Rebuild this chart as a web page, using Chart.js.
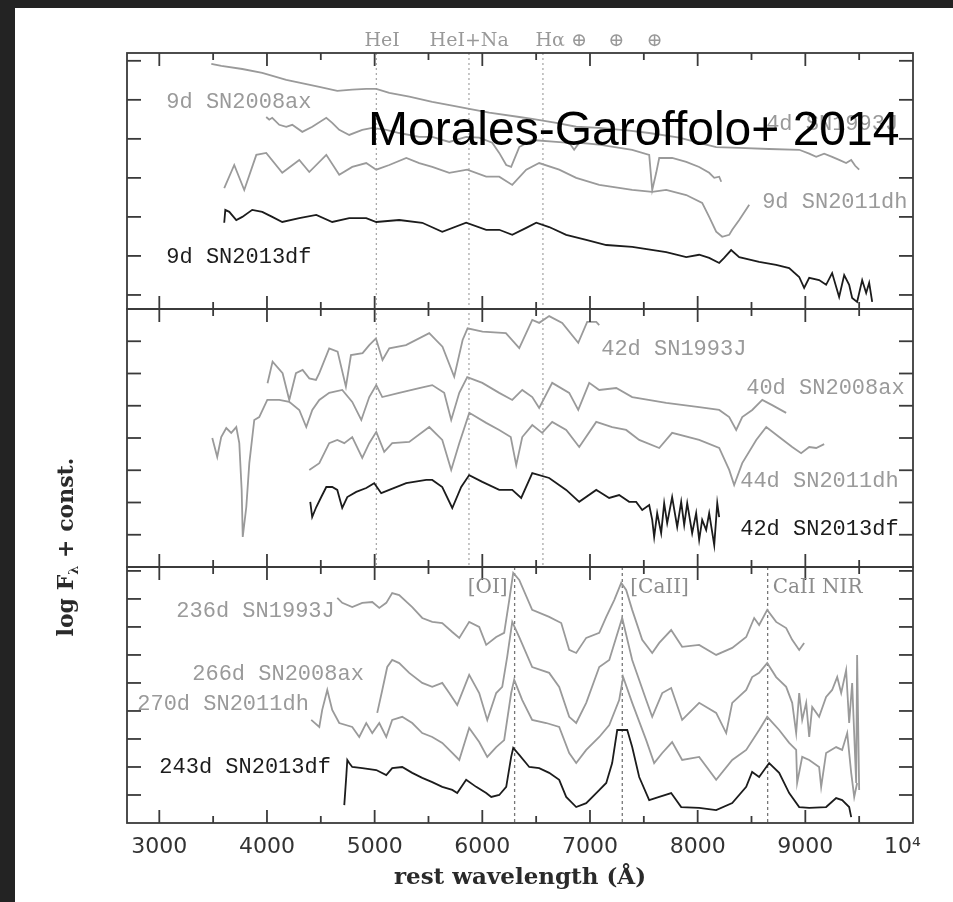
<!DOCTYPE html>
<html>
<head>
<meta charset="utf-8">
<script src="https://cdn.jsdelivr.net/npm/chart.js@4.4.1/dist/chart.umd.min.js"></script>
<style>
  html, body { margin: 0; padding: 0; background: #232323; }
  #wrap { position: absolute; left: 15px; top: 8px; width: 938px; height: 894px; background: #fff; }
</style>
</head>
<body>
<div id="wrap"><canvas id="spec" width="938" height="894"></canvas></div>
<script>
// ---- early phase (9d / 4d), top panel ----
const wl_1993J_4d = [3483,3576,3771,3956,4179,4300,4486,4653,4792,4922,5015,5136,5322,5535,5721,5879,6064,6343,6464,6687,6872,7086,7364,7550,7829,8014,8172,8386,8664,8943,9036,9101,9175,9249,9314,9379,9426,9463,9500];
const fx_1993J_4d = [5.92,5.87,5.79,5.69,5.51,5.44,5.33,5.23,5.26,5.28,5.28,5.18,5.08,4.95,4.85,4.77,4.67,4.56,4.51,4.41,4.31,4.28,4.21,4.15,4.03,3.90,3.79,3.77,3.74,3.72,3.62,3.54,3.62,3.54,3.46,3.38,3.46,3.31,3.21];

const wl_2008ax_9d = [3993,4021,4049,4114,4179,4235,4328,4421,4551,4606,4671,4764,4885,4978,5108,5228,5414,5535,5693,5850,5971,6092,6157,6222,6268,6343,6464,6686,6807,6853,6900,7086,7392,7550,7578,7615,7643,7763,7894,8014,8107,8154,8200,8219];
const fx_2008ax_9d = [4.56,4.49,4.54,4.36,4.31,4.36,4.18,4.31,4.54,4.41,4.23,4.10,4.23,4.28,4.23,4.15,4.05,4.05,3.92,4.05,4.03,3.90,3.64,3.33,3.28,3.79,3.97,3.92,3.90,3.72,3.90,3.85,3.72,3.59,2.69,3.13,3.51,3.51,3.41,3.28,3.13,3.00,3.03,2.90];

const wl_2011dh_9d = [3603,3696,3789,3901,3993,4142,4300,4393,4551,4671,4792,4922,5015,5136,5294,5414,5535,5693,5860,6036,6157,6278,6408,6528,6714,6872,7086,7392,7578,7708,7894,8042,8107,8172,8228,8293,8321,8386,8479];
const fx_2011dh_9d = [2.74,3.33,2.69,3.59,3.64,3.13,3.46,3.15,3.59,3.08,3.28,3.38,3.21,3.33,3.51,3.38,3.28,3.13,3.21,3.03,3.03,2.82,3.21,3.38,3.21,3.00,2.82,2.69,2.64,2.69,2.56,2.36,2.00,1.62,1.49,1.54,1.67,1.92,2.31];

const wl_2013df_9d = [3603,3613,3650,3715,3771,3863,3956,4049,4142,4300,4458,4606,4764,4922,5015,5228,5442,5628,5850,6036,6157,6278,6408,6501,6621,6779,6965,7151,7392,7708,7894,8014,8107,8200,8246,8311,8386,8571,8729,8850,8943,8989,9036,9128,9193,9249,9314,9361,9407,9435,9481,9528,9565,9593,9621];
const fx_2013df_9d = [1.85,2.18,2.13,1.92,2.00,2.18,2.13,2.00,1.87,1.97,2.05,1.87,1.97,1.97,1.87,1.92,1.85,1.62,1.85,1.67,1.67,1.54,1.72,1.85,1.74,1.54,1.41,1.28,1.23,1.10,0.97,1.03,0.95,0.82,0.95,1.15,0.97,0.85,0.77,0.69,0.46,0.18,0.44,0.38,0.26,0.56,-0.05,0.51,0.26,-0.08,-0.18,0.38,0.05,0.31,-0.18];

// ---- ~40d, middle panel ----
const wl_1993J_42d = [4005,4052,4145,4207,4269,4331,4393,4455,4486,4578,4656,4733,4780,4888,4950,5012,5073,5136,5291,5507,5630,5739,5817,5863,6002,6219,6343,6464,6528,6621,6742,6891,6974,7058,7086];
const fx_1993J_42d = [5.70,6.37,6.01,5.18,6.01,6.11,5.85,5.80,6.01,6.78,6.68,5.59,6.57,6.63,6.88,7.09,6.42,6.78,6.88,7.25,6.83,5.90,7.04,7.40,7.30,7.25,6.79,7.66,7.57,7.78,7.57,6.95,7.60,7.60,7.50];

const wl_2008ax_40d = [3492,3538,3575,3622,3668,3715,3743,3765,3775,3808,3836,3882,3928,4003,4114,4207,4300,4365,4421,4486,4578,4699,4792,4876,4950,5015,5071,5228,5414,5535,5646,5711,5786,5860,6000,6157,6278,6371,6464,6528,6649,6807,6891,6993,7086,7244,7392,7708,8014,8200,8293,8358,8414,8507,8600,8692,8822];
const fx_2008ax_40d = [4.00,3.41,4.03,4.31,4.16,4.34,3.84,2.39,0.93,1.86,3.22,4.56,4.65,5.18,5.18,5.12,4.87,4.34,4.87,5.18,5.40,5.49,5.12,4.56,5.27,5.64,5.27,5.40,5.55,5.64,5.40,4.56,5.40,5.89,5.71,5.40,5.18,5.49,5.27,4.93,5.71,5.40,4.87,5.71,5.49,5.55,5.27,5.09,4.96,4.87,4.65,4.25,4.65,4.87,5.18,5.02,4.78];

const wl_2011dh_44d = [4393,4486,4578,4653,4718,4792,4885,4950,5015,5089,5163,5321,5507,5628,5711,5786,5879,6036,6157,6264,6315,6371,6464,6556,6649,6779,6900,7058,7206,7336,7457,7643,7763,8014,8200,8293,8339,8414,8544,8637,8757,8878,8961,9036,9101,9175];
const fx_2011dh_44d = [3.01,3.22,3.84,3.94,3.84,4.03,3.38,3.84,4.19,3.57,3.84,3.88,4.34,3.94,3.01,3.84,4.78,4.47,4.25,4.03,3.16,4.03,4.40,4.16,4.50,4.25,3.72,4.50,4.34,4.25,3.94,3.69,4.16,3.94,3.69,3.01,2.54,3.22,3.94,4.34,4.03,3.72,3.53,3.72,3.69,3.81];

const wl_2013df_42d = [4402,4420,4458,4504,4551,4606,4653,4699,4746,4829,4922,4996,5061,5136,5293,5479,5535,5628,5721,5804,5878,6000,6157,6278,6361,6464,6621,6779,6900,7058,7086,7178,7271,7364,7429,7485,7550,7578,7596,7624,7661,7689,7717,7763,7810,7847,7875,7903,7949,7986,8014,8042,8079,8107,8154,8182,8200];
const fx_2013df_42d = [2.02,1.55,1.86,2.17,2.48,2.48,2.39,1.83,2.17,2.33,2.45,2.60,2.29,2.39,2.60,2.70,2.70,2.48,1.83,2.48,2.85,2.64,2.39,2.39,2.14,2.91,2.76,2.39,2.02,2.39,2.33,2.14,2.23,2.02,2.02,1.77,1.92,1.46,0.93,1.67,1.05,1.98,1.36,2.17,1.24,2.02,1.30,1.98,1.05,1.67,0.84,1.46,1.15,1.67,0.68,1.98,1.55];

// ---- nebular phase, bottom panel ----
const wl_1993J_236d = [4653,4699,4792,4885,4978,5043,5108,5163,5228,5349,5442,5535,5628,5721,5786,5878,5971,6036,6129,6203,6250,6287,6343,6463,6621,6733,6807,6872,6965,7086,7151,7225,7290,7336,7392,7485,7578,7643,7754,7856,8014,8172,8321,8451,8525,8571,8646,8729,8822,8878,8943,8989];
const fx_1993J_236d = [8.04,7.86,7.71,7.86,7.89,7.68,7.86,8.21,8.14,7.71,7.32,7.18,7.14,6.82,6.61,7.18,7.00,6.36,6.64,6.79,7.96,8.93,8.68,7.61,7.36,7.14,6.18,6.07,6.61,6.79,7.36,7.96,8.57,8.32,7.61,6.54,6.07,6.43,6.89,6.29,6.36,6.00,6.25,6.64,7.32,7.07,7.61,7.18,6.96,6.54,6.18,6.43];

const wl_2008ax_266d = [5024,5071,5117,5163,5228,5321,5442,5535,5628,5693,5767,5878,5971,6046,6129,6185,6231,6278,6343,6463,6621,6714,6807,6872,6965,7086,7179,7299,7392,7522,7578,7671,7754,7856,8014,8172,8265,8321,8451,8506,8571,8646,8729,8822,8878,8915,8943,8971,9008,9036,9064,9128,9193,9249,9296,9333,9379,9407,9435,9472,9481,9500];
const fx_2008ax_266d = [3.93,4.75,5.57,5.82,5.71,5.36,5.00,4.86,5.00,4.64,4.21,5.29,4.64,3.68,4.64,4.86,5.93,7.18,6.64,5.57,5.36,4.86,3.79,3.57,4.29,5.57,5.82,7.32,5.82,4.39,3.79,4.64,4.82,3.68,4.29,3.93,3.21,4.29,4.75,5.21,5.36,5.71,5.21,4.86,4.29,3.21,4.64,3.68,4.29,3.07,4.14,3.79,4.50,4.75,5.21,4.64,5.46,3.57,5.00,1.43,6.00,1.18];

const wl_2011dh_270d = [4411,4486,4513,4560,4606,4671,4792,4857,4922,4978,5043,5108,5163,5256,5349,5442,5535,5628,5721,5786,5878,5971,6046,6129,6203,6268,6296,6371,6463,6594,6714,6807,6872,6965,7086,7179,7271,7308,7392,7522,7596,7671,7763,7856,8014,8172,8321,8451,8571,8646,8757,8850,8915,8924,8971,9036,9128,9147,9193,9286,9342,9389,9426,9454,9481];
const fx_2011dh_270d = [3.68,3.43,4.04,4.75,4.04,3.57,3.43,3.07,3.57,3.21,3.57,3.07,3.68,3.79,3.57,3.21,3.07,2.86,2.50,2.25,3.39,2.89,2.36,2.71,2.96,4.64,5.11,4.39,3.68,3.57,3.43,2.50,2.14,2.61,3.07,3.50,4.39,5.21,4.29,2.96,2.14,2.50,2.89,2.25,2.36,1.54,2.25,2.61,3.32,3.79,3.32,2.86,2.61,1.43,2.36,2.25,2.00,1.29,2.50,2.71,2.61,3.21,1.79,0.93,1.43];

const wl_2013df_243d = [4718,4736,4746,4764,4792,4885,5015,5108,5163,5256,5349,5442,5535,5628,5721,5767,5850,5943,6036,6083,6157,6222,6268,6287,6343,6436,6528,6621,6714,6779,6872,6965,7058,7151,7206,7253,7346,7392,7457,7550,7643,7754,7847,8014,8172,8321,8451,8506,8571,8664,8757,8850,8943,9036,9193,9286,9342,9407,9426];
const fx_2013df_243d = [0.64,1.64,2.25,2.14,2.00,1.96,1.89,1.71,1.96,2.00,1.79,1.61,1.46,1.29,1.18,1.07,1.54,1.29,1.07,0.93,1.00,1.29,2.36,2.68,2.43,2.00,1.96,1.79,1.54,0.93,0.57,0.71,1.07,1.43,2.14,3.32,3.32,2.71,1.64,0.82,0.93,1.07,0.57,0.54,0.46,0.71,1.29,1.82,1.64,2.14,1.79,1.07,0.57,0.54,0.57,0.89,0.82,0.57,0.21];

// axis ticks
const xTicks = [3000,3500,4000,4500,5000,5500,6000,6500,7000,7500,8000,8500,9000,9500,10000];
const yTicksTop = [0,1,2,3,4,5,6];
const yTicksMid = [1,2,3,4,5,6,7];
const yTicksBot = [1,2,3,4,5,6,7,8,9];

// line identifications (Angstrom)
const earlyLines = [5016, 5876, 6563];
const earlyLineNames = ['HeI', 'HeI+Na', 'H\u03b1', '\u2295', '\u2295', '\u2295'];
const earlyLineLabelAt = [5070, 5878, 6630, 6900, 7245, 7600];
const lateLines = [6300, 7300, 8650];
const lateLineNames = ['[OI]', '[CaII]', 'CaII NIR'];

const GRAY = '#9a9a9a';
const BLACK = '#1c1c1c';

// text, left edge (A), baseline (log F + const), panel, colour
const specNotes = [
  ['4d SN1993J', 8636, 4.23, 'yTop', GRAY],
  ['9d SN2008ax', 3065, 4.79, 'yTop', GRAY],
  ['9d SN2011dh', 8599, 2.23, 'yTop', GRAY],
  ['9d SN2013df', 3065, 0.82, 'yTop', BLACK],
  ['42d SN1993J', 7104, 6.57, 'yMid', GRAY],
  ['40d SN2008ax', 8451, 5.36, 'yMid', GRAY],
  ['44d SN2011dh', 8395, 2.48, 'yMid', GRAY],
  ['42d SN2013df', 8395, 0.99, 'yMid', BLACK],
  ['236d SN1993J', 3158, 7.36, 'yBot', GRAY],
  ['266d SN2008ax', 3306, 5.11, 'yBot', GRAY],
  ['270d SN2011dh', 2795, 4.04, 'yBot', GRAY],
  ['243d SN2013df', 3000, 1.79, 'yBot', BLACK],
];

function spectrum(wl, fx, axis, color) {
  return {
    data: wl.map((w, i) => ({x: w, y: fx[i]})),
    yAxisID: axis,
    borderColor: color,
    borderWidth: 1.8,
    pointRadius: 0,
    tension: 0,
    fill: false
  };
}

function seg(ctx, x1, y1, x2, y2) {
  ctx.beginPath();
  ctx.moveTo(x1, y1);
  ctx.lineTo(x2, y2);
  ctx.stroke();
}

const panelsPlugin = {
  id: 'panels',
  beforeDatasetsDraw(chart) {
    const ctx = chart.ctx;
    const x = chart.scales.x;
    const top = chart.scales.yTop, mid = chart.scales.yMid, bot = chart.scales.yBot;
    ctx.save();
    ctx.lineWidth = 1.3;
    ctx.strokeStyle = '#aaaaaa';
    ctx.setLineDash([2, 3]);
    earlyLines.forEach(w => {
      const px = x.getPixelForValue(w);
      seg(ctx, px, top.top, px, mid.bottom);
    });
    ctx.strokeStyle = '#777777';
    ctx.setLineDash([3, 3]);
    lateLines.forEach(w => {
      const px = x.getPixelForValue(w);
      seg(ctx, px, bot.top, px, bot.bottom);
    });
    ctx.restore();
  },
  afterDatasetsDraw(chart) {
    const ctx = chart.ctx;
    const x = chart.scales.x;
    const L = chart.chartArea.left, R = chart.chartArea.right;
    const panels = [chart.scales.yTop, chart.scales.yMid, chart.scales.yBot];
    ctx.save();
    ctx.strokeStyle = '#3a3a3a';
    ctx.lineWidth = 1.8;
    panels.forEach(s => {
      ctx.strokeRect(L, s.top, R - L, s.bottom - s.top);
      s.ticks.forEach(t => {
        const py = s.getPixelForValue(t.value);
        if (py <= s.top + 1 || py >= s.bottom - 1) return;
        seg(ctx, L, py, L + 14, py);
        seg(ctx, R - 14, py, R, py);
      });
      x.ticks.forEach(t => {
        const px = x.getPixelForValue(t.value);
        if (px <= L + 1 || px >= R - 1) return;
        const len = t.value % 1000 === 0 ? 13 : 7;
        seg(ctx, px, s.top, px, s.top + len);
        seg(ctx, px, s.bottom - len, px, s.bottom);
      });
    });
    ctx.restore();
  },
  afterDraw(chart) {
    const ctx = chart.ctx;
    const x = chart.scales.x;
    const top = chart.scales.yTop, bot = chart.scales.yBot;
    ctx.save();

    // line ids above the top panel
    ctx.font = '19px "DejaVu Serif"';
    ctx.fillStyle = '#999999';
    ctx.textAlign = 'center';
    ctx.textBaseline = 'alphabetic';
    earlyLineNames.forEach((n, i) => {
      ctx.fillText(n, x.getPixelForValue(earlyLineLabelAt[i]), top.top - 7);
    });

    // nebular line ids
    ctx.font = '20px "DejaVu Serif"';
    ctx.fillStyle = '#8c8c8c';
    const yl = bot.getPixelForValue(8.21);
    ctx.textAlign = 'right';
    ctx.fillText(lateLineNames[0], x.getPixelForValue(lateLines[0]) - 7, yl);
    ctx.textAlign = 'left';
    ctx.fillText(lateLineNames[1], x.getPixelForValue(lateLines[1]) + 8, yl);
    ctx.fillText(lateLineNames[2], x.getPixelForValue(lateLines[2]) + 5, yl);

    // spectrum labels
    ctx.font = '22px "Liberation Mono"';
    specNotes.forEach(([text, w, v, axis, color]) => {
      ctx.fillStyle = color;
      ctx.fillText(text, x.getPixelForValue(w), chart.scales[axis].getPixelForValue(v));
    });

    // y axis title
    ctx.save();
    ctx.translate(58, 539);
    ctx.rotate(-Math.PI / 2);
    ctx.fillStyle = '#2a2a2a';
    const big = 'bold 22px "DejaVu Serif"', small = 'bold 13px "DejaVu Serif"';
    ctx.font = big;
    const w1 = ctx.measureText('log F').width;
    const w3 = ctx.measureText(' + const.').width;
    ctx.font = small;
    const w2 = ctx.measureText('\u03bb').width;
    let cx = -(w1 + w2 + w3) / 2;
    ctx.textAlign = 'left';
    ctx.font = big;
    ctx.fillText('log F', cx, 0);
    cx += w1;
    ctx.font = small;
    ctx.fillText('\u03bb', cx, 5);
    cx += w2;
    ctx.font = big;
    ctx.fillText(' + const.', cx, 0);
    ctx.restore();

    // overlay credit
    ctx.font = '48px "Liberation Sans"';
    ctx.fillStyle = '#000000';
    ctx.textAlign = 'left';
    ctx.fillText('Morales-Garoffolo+ 2014', 353, 137);
    ctx.restore();
  }
};

function panelAxis(min, max, weight, order, tickList) {
  return {
    type: 'linear',
    position: 'left',
    stack: 'spec',
    stackWeight: weight,
    weight: order,
    min: min,
    max: max,
    grid: {display: false, drawTicks: false},
    border: {display: false},
    ticks: {display: false},
    afterBuildTicks: s => { s.ticks = tickList.map(v => ({value: v})); },
    afterFit: s => { s.width = 112; }
  };
}

const ctx = document.getElementById('spec').getContext('2d');
const chart = new Chart(ctx, {
  type: 'line',
  data: {
    datasets: [
      spectrum(wl_1993J_4d, fx_1993J_4d, 'yTop', GRAY),
      spectrum(wl_2008ax_9d, fx_2008ax_9d, 'yTop', GRAY),
      spectrum(wl_2011dh_9d, fx_2011dh_9d, 'yTop', GRAY),
      spectrum(wl_2013df_9d, fx_2013df_9d, 'yTop', BLACK),
      spectrum(wl_1993J_42d, fx_1993J_42d, 'yMid', GRAY),
      spectrum(wl_2008ax_40d, fx_2008ax_40d, 'yMid', GRAY),
      spectrum(wl_2011dh_44d, fx_2011dh_44d, 'yMid', GRAY),
      spectrum(wl_2013df_42d, fx_2013df_42d, 'yMid', BLACK),
      spectrum(wl_1993J_236d, fx_1993J_236d, 'yBot', GRAY),
      spectrum(wl_2008ax_266d, fx_2008ax_266d, 'yBot', GRAY),
      spectrum(wl_2011dh_270d, fx_2011dh_270d, 'yBot', GRAY),
      spectrum(wl_2013df_243d, fx_2013df_243d, 'yBot', BLACK),
    ]
  },
  options: {
    responsive: false,
    animation: false,
    events: [],
    layout: {padding: {left: 0, top: 45, right: 40, bottom: 0}},
    plugins: {
      legend: {display: false},
      tooltip: {enabled: false}
    },
    scales: {
      x: {
        type: 'linear',
        position: 'bottom',
        min: 2700,
        max: 10000,
        grid: {display: false, drawTicks: false},
        border: {display: false},
        afterBuildTicks: s => { s.ticks = xTicks.map(v => ({value: v})); },
        ticks: {
          autoSkip: false,
          maxRotation: 0,
          padding: 11,
          color: '#333333',
          font: {family: 'DejaVu Sans', size: 22},
          callback: v => v % 1000 === 0 ? (v === 10000 ? '10\u2074   ' : String(v)) : ''
        },
        title: {
          display: true,
          text: 'rest wavelength (\u00c5)',
          color: '#2a2a2a',
          font: {family: 'DejaVu Serif', size: 23, weight: 'bold'},
          padding: {top: 0, bottom: 10}
        },
        afterFit: s => { s.height = 79; }
      },
      yTop: panelAxis(-0.36, 6.2, 256, 3, yTicksTop),
      yMid: panelAxis(0, 8, 258, 2, yTicksMid),
      yBot: panelAxis(0, 9.14, 256, 1, yTicksBot)
    }
  },
  plugins: [panelsPlugin]
});
</script>
</body>
</html>
